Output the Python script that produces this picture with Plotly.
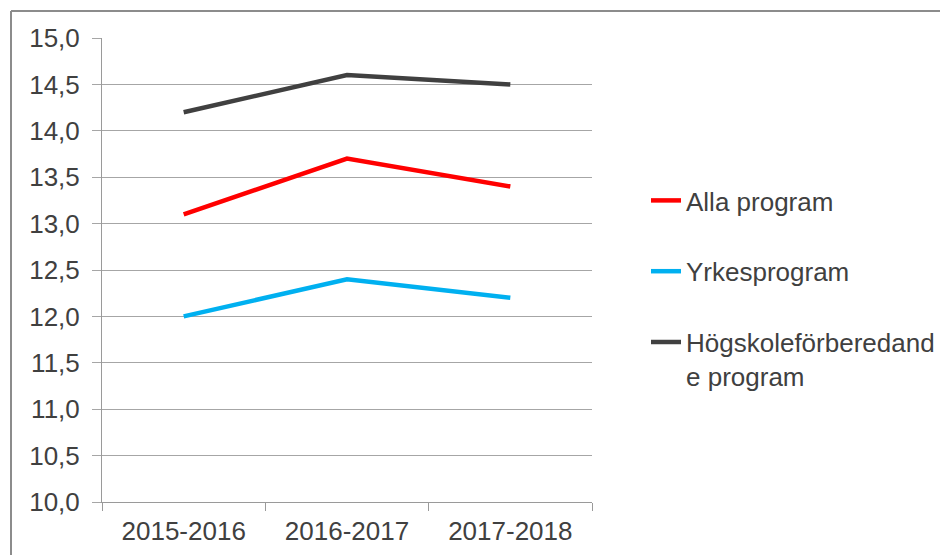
import plotly.graph_objects as go

categories = ["2015-2016", "2016-2017", "2017-2018"]
alla = [13.1, 13.7, 13.4]
yrkes = [12.0, 12.4, 12.2]
hogskole = [14.2, 14.6, 14.5]

series = [
    ("Alla program", alla, "#FF0000"),
    ("Yrkesprogram", yrkes, "#00B0F0"),
    ("Högskoleförberedand<br>e program", hogskole, "#404040"),
]

OFF = 8  # page body margin
W, H = 948, 555
L, R, T, B = 102 - OFF, 356 + OFF, 38 - OFF, 53 + OFF
pw, ph = W - L - R, H - T - B

fig = go.Figure()
for i, (name, vals, col) in enumerate(series):
    fig.add_trace(go.Scatter(
        x=categories, y=vals, name=name, mode="lines",
        line=dict(color=col, width=4.5), legendgroup=f"g{i}",
    ))

def px_x(x):
    return (x - OFF - L) / pw

def px_y(y):
    return (H - B - (y - OFF)) / ph

border_col = "#8c8c8c"
fig.add_shape(type="line", xref="paper", yref="paper",
              x0=px_x(11), x1=px_x(11), y0=px_y(580), y1=px_y(11),
              line=dict(color=border_col, width=2))
fig.add_shape(type="line", xref="paper", yref="paper",
              x0=px_x(11), x1=px_x(980), y0=px_y(11), y1=px_y(11),
              line=dict(color=border_col, width=2))

font_fam = "Liberation Sans, Arial, sans-serif"
fig.update_layout(
    width=W, height=H,
    margin=dict(l=L, r=R, t=T, b=B),
    paper_bgcolor="white", plot_bgcolor="white",
    separators=", ",
    font=dict(family=font_fam, size=26, color="#404040"),
    showlegend=True,
    legend=dict(
        x=px_x(646), y=px_y(177), xanchor="left", yanchor="top",
        font=dict(family=font_fam, size=26, color="#404040"),
        tracegroupgap=34, valign="top", bgcolor="rgba(0,0,0,0)",
    ),
    xaxis=dict(
        range=[-0.5, 2.5], showgrid=False, showline=True,
        linecolor="#9a9a9a", linewidth=1,
        ticks="outside", ticklen=8, tickcolor="#9a9a9a",
        tickson="boundaries", ticklabelstandoff=6,
        tickfont=dict(size=26, color="#404040"), fixedrange=True,
    ),
    yaxis=dict(
        range=[10, 15], dtick=0.5, tick0=10, tickformat=".1f",
        showgrid=True, gridcolor="#a6a6a6", gridwidth=1,
        showline=True, linecolor="#9a9a9a", linewidth=1,
        ticks="outside", ticklen=9, tickcolor="#a6a6a6",
        ticklabelstandoff=7, zeroline=False,
        tickfont=dict(size=26, color="#404040"), fixedrange=True,
    ),
)

fig.write_html("out.html")
